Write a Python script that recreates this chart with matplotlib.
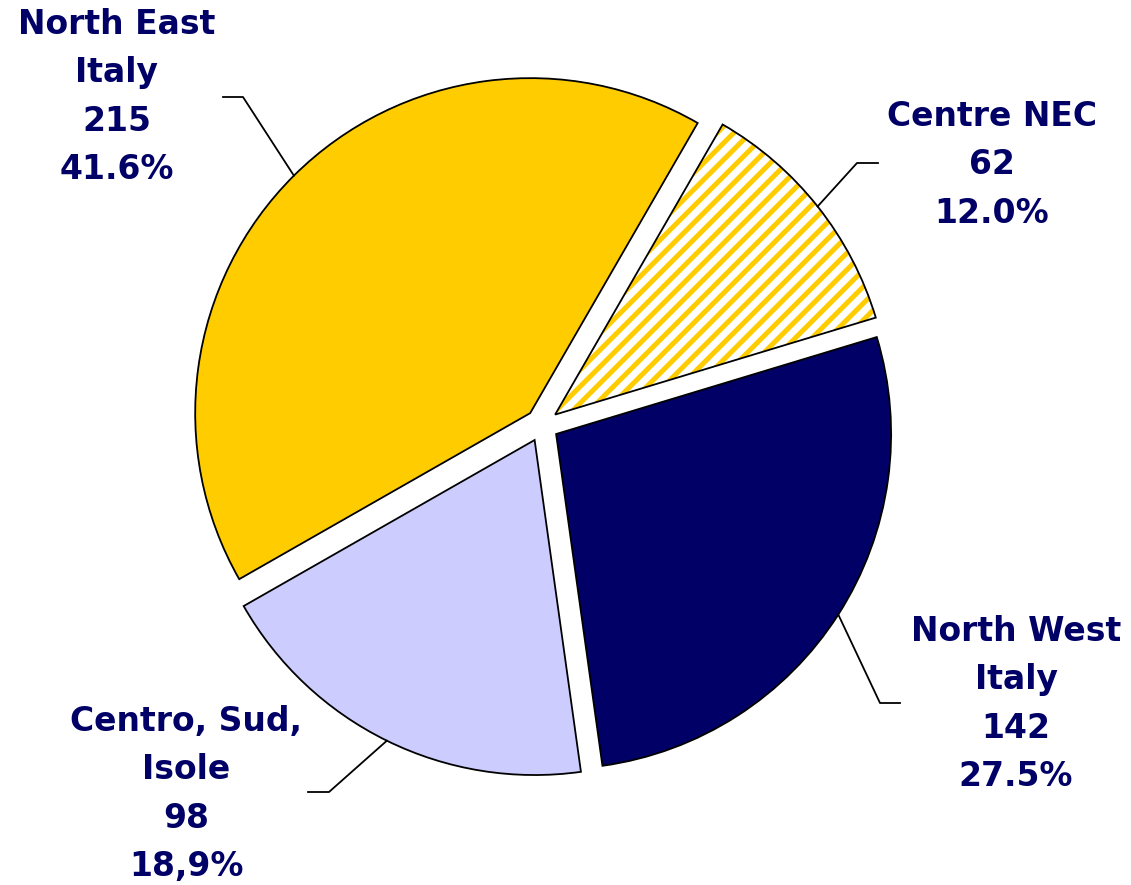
from matplotlib import pyplot as plt
from matplotlib.patches import Wedge
import numpy as np

# data (clockwise from top right)
regions = ["Centre NEC", "North West\nItaly", "Centro, Sud,\nIsole", "North East\nItaly"]
counts = [62, 142, 98, 215]
shares = ["12.0%", "27.5%", "18,9%", "41.6%"]
colors = ["white", "#000066", "#CCCCFF", "#FFCC00"]

navy = "#000066"
W, H = 1131, 885
DPI = 100
cx, cy, R = 542, 425, 335  # pie centre and radius in pixels

def px(x, y):
    # pixel position (from top left) -> data units
    return (x - cx) / R, (cy - y) / R

def pt(p):
    # pixels -> points
    return p * 72 / DPI

plt.rcParams['hatch.linewidth'] = pt(5)

fig = plt.figure(figsize=(W / DPI, H / DPI), dpi=DPI)
ax = fig.add_axes([0, 0, 1, 1])

wedges, _ = ax.pie(counts, colors=colors, startangle=60, counterclock=False,
                   explode=[0.05] * 4, radius=1,
                   wedgeprops=dict(edgecolor="black", linewidth=pt(1.8)))
ax.set_xlim(px(0, 0)[0], px(W, 0)[0])
ax.set_ylim(px(0, H)[1], px(0, 0)[1])
ax.axis("off")

# hatched Centre NEC slice: yellow stripes, black outline
w = wedges[0]
hatch = Wedge(w.center, w.r, w.theta1, w.theta2, facecolor="white",
              edgecolor="#FFCC00", hatch="//", linewidth=0, zorder=w.get_zorder())
ax.add_patch(hatch)
w.set_facecolor("none")
w.set_zorder(w.get_zorder() + 0.5)

# label layout: (elbow, end of leader, text centre) in pixels
layout = [
    ((857, 163), (878, 163), (992, 165)),
    ((880, 703), (900, 703), (1016, 704)),
    ((329, 792), (308, 792), (186, 794)),
    ((243, 97), (223, 97), (117, 97)),
]

for wd, name, n, pct, (elb, end, tpos) in zip(wedges, regions, counts, shares, layout):
    mid = np.deg2rad((wd.theta1 + wd.theta2) / 2)
    x0 = wd.center[0] + wd.r * np.cos(mid)
    y0 = wd.center[1] + wd.r * np.sin(mid)
    ex, ey = px(*elb)
    fx, fy = px(*end)
    ax.plot([x0, ex, fx], [y0, ey, fy], color="black", linewidth=pt(1.8), zorder=5)
    tx, ty = px(*tpos)
    ax.text(tx, ty, name + "\n" + str(n) + "\n" + pct, ha="center", va="center",
            multialignment="center", fontsize=pt(33), fontweight="bold", color=navy,
            linespacing=1.58)

fig.savefig("out.png", dpi=DPI)
